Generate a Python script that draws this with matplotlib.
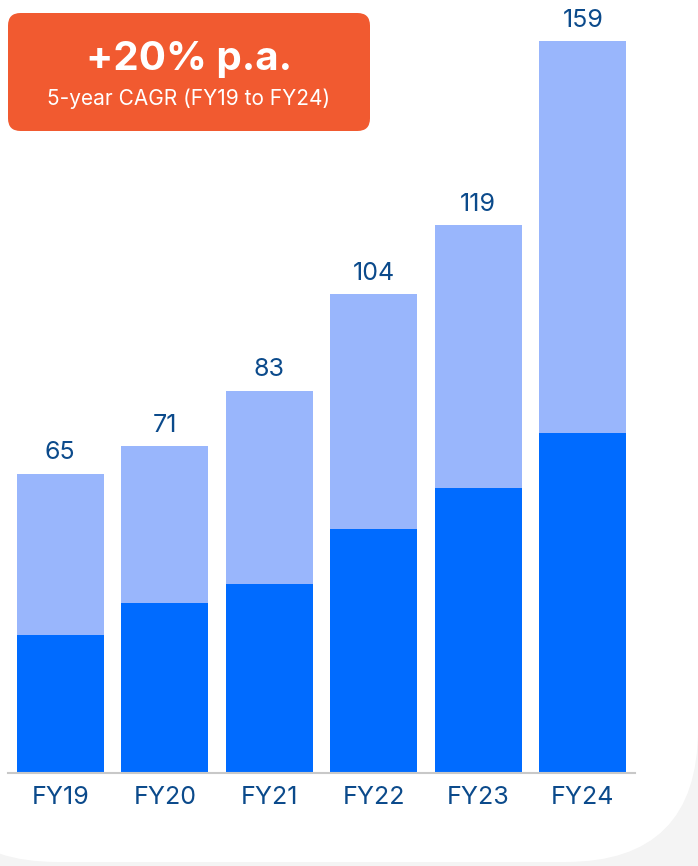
import numpy as np
import matplotlib.pyplot as plt
from matplotlib.patches import FancyBboxPatch

years = ['FY19', 'FY20', 'FY21', 'FY22', 'FY23', 'FY24']
totals = [65, 71, 83, 104, 119, 159]
base = [30, 37, 41, 53, 62, 74]
upper = [t - b for t, b in zip(totals, base)]

plt.rcParams['font.family'] = ['Inter', 'DejaVu Sans']

W, H = 698, 866
fig = plt.figure(figsize=(W / 100, H / 100), dpi=100)
fig.patch.set_facecolor('#f4f4f4')

# white card with big rounded corners
card = FancyBboxPatch((-75 / W, 4 / H), 773 / W, 1.2,
                      boxstyle='round,pad=0,rounding_size=0.19',
                      transform=fig.transFigure, facecolor='white',
                      edgecolor='none', mutation_aspect=W / H, zorder=-10)
fig.patches.append(card)

ax = fig.add_axes([8 / W, 93 / H, 627 / W, 773 / H])
ax.set_facecolor('none')
x = np.arange(len(years))
ax.bar(x, base, width=0.833, color='#006bff')
ax.bar(x, upper, bottom=base, width=0.833, color='#99b6fc')
for xi, t in zip(x, totals):
    ax.annotate(str(t), (xi, t), xytext=(0, 7), textcoords='offset points',
                ha='center', va='bottom', fontsize=18, color='#0b4a8b')

ax.set_xlim(-0.5, 5.5)
ax.set_ylim(0, 168)
ax.set_xticks(x)
ax.set_xticklabels(years, fontsize=18, color='#0b4a8b')
ax.tick_params(axis='x', length=0, pad=9)
ax.set_yticks([])
for s in ['top', 'right', 'left']:
    ax.spines[s].set_visible(False)
ax.spines['bottom'].set_color('#c8c8c8')
ax.spines['bottom'].set_linewidth(1.5)

# CAGR badge
badge = FancyBboxPatch((8 / W, 1 - 131 / H), 362 / W, 118 / H,
                       boxstyle='round,pad=0,rounding_size=0.018',
                       transform=fig.transFigure, facecolor='#f15a30',
                       edgecolor='none', mutation_aspect=W / H, zorder=5)
fig.patches.append(badge)
fig.text(189 / W, 1 - 60 / H, '+20% p.a.', ha='center', va='center',
         fontsize=29, fontweight='bold', color='white', zorder=6)
fig.text(189 / W, 1 - 99 / H, '5-year CAGR (FY19 to FY24)', ha='center',
         va='center', fontsize=15, color='white', zorder=6)

fig.savefig('out.png', dpi=100, facecolor=fig.get_facecolor())
